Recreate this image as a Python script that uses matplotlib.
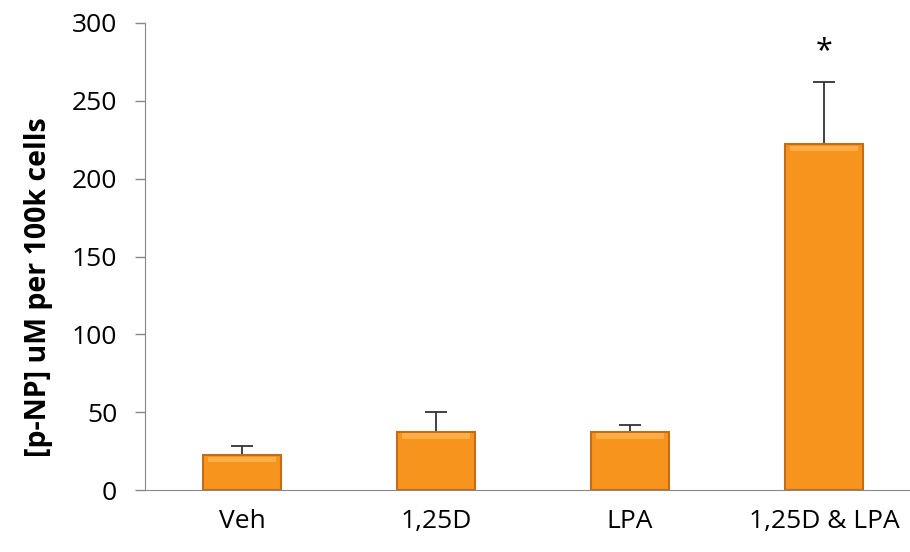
import matplotlib.pyplot as plt
import numpy as np

# data
groups = ["Veh", "1,25D", "LPA", "1,25D & LPA"]
means = [22.5, 37.5, 37.5, 222]
errors = [6, 12.5, 4.5, 40]
signif = ["", "", "", "*"]

plt.rcParams['font.family'] = ['Open Sans', 'DejaVu Sans']

fig = plt.figure(figsize=(9.10, 5.52), dpi=100)
ax = fig.add_axes([145 / 910, 1 - 490 / 552, 776 / 910, 467 / 552])

x = np.arange(len(groups))
width = 0.40

# main bars
ax.bar(x, means, width=width, color='#f7941e', edgecolor='#c46c17',
       linewidth=1.5, zorder=2)
# lighter bevel at top of each bar
ax.bar(x, [3.5] * len(x), bottom=np.array(means) - 4.5, width=width * 0.88,
       color='#ffad45', linewidth=0, zorder=3)

ax.errorbar(x, means, yerr=[np.zeros(len(x)), errors], fmt='none',
            ecolor='#333333', elinewidth=1.3, capsize=8, capthick=1.3,
            zorder=1)

for xi, m, e, s in zip(x, means, errors, signif):
    if s:
        ax.text(xi, m + e + 10, s, ha='center', va='bottom',
                fontsize=22, color='black')

ax.set_xlim(-0.5, len(groups) - 0.5)
ax.set_ylim(0, 300)
ax.set_yticks(range(0, 301, 50))
ax.set_xticks(x)
ax.set_xticklabels(groups)
ax.tick_params(axis='both', labelsize=19, colors='#888888', labelcolor='black')
ax.tick_params(axis='x', length=0, pad=14)
ax.tick_params(axis='y', length=7, width=1, pad=13)

for side in ['top', 'right']:
    ax.spines[side].set_visible(False)
for side in ['left', 'bottom']:
    ax.spines[side].set_color('#888888')

ax.set_ylabel("[p-NP] uM per 100k cells", fontsize=20.5, fontweight='bold')
ax.yaxis.set_label_coords(-0.118, 0.435)

fig.savefig("out.png", dpi=100)
